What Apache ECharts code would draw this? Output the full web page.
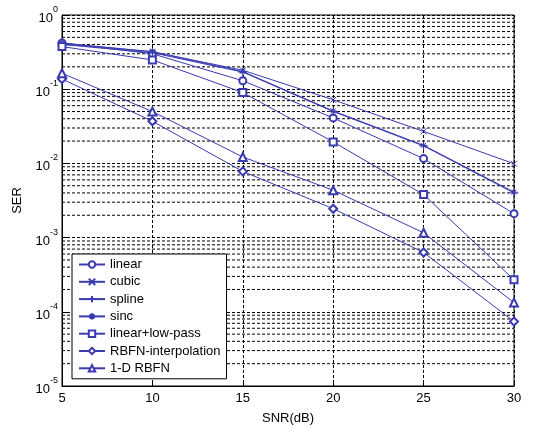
<!DOCTYPE html>
<html>
<head>
<meta charset="utf-8">
<script src="https://cdn.jsdelivr.net/npm/echarts@6/dist/echarts.min.js"></script>
<style>
  html, body { margin: 0; padding: 0; background: #fff; }
  #chart { width: 544px; height: 430px; }
</style>
</head>
<body>
<div id="chart"></div>
<script>
// SNR axis
var snr = [5, 10, 15, 20, 25, 30];

// SER values
var linear = [0.42, 0.30, 0.13, 0.041, 0.0116, 0.0021];
var cubic = [0.41, 0.32, 0.18, 0.072, 0.027, 0.0099];
var spline = [0.40, 0.31, 0.17, 0.050, 0.0172, 0.0040];
var sinc = [0.42, 0.32, 0.173, 0.051, 0.0175, 0.0041];
var linearLowPass = [0.375, 0.248, 0.090, 0.0195, 0.0038, 0.00027];
var rbfnInterp = [0.137, 0.037, 0.0078, 0.00245, 0.00063, 0.000074];
var rbfn1d = [0.164, 0.050, 0.0122, 0.00435, 0.00116, 0.000133];

var names = ['linear', 'cubic', 'spline', 'sinc', 'linear+low-pass', 'RBFN-interpolation', '1-D RBFN'];
var values = [linear, cubic, spline, sinc, linearLowPass, rbfnInterp, rbfn1d];
var symbols = [
    'emptyCircle',
    'path://M0,0L10,10M10,0L0,10',
    'path://M5,0L5,10M0,5L10,5',
    'path://M5,0L5,10M0,5L10,5M1.5,1.5L8.5,8.5M8.5,1.5L1.5,8.5',
    'emptyRect',
    'emptyDiamond',
    'emptyTriangle'
];
var sizes = [7, 6, 9, 7, 7, 8, 8];

var blue = '#3a3ab2';

var series = [];

// minor log grid lines (2..9 in each decade), drawn as plain dashed lines
for (var e = -5; e < 0; e++) {
    for (var m = 2; m <= 9; m++) {
        var v = m * Math.pow(10, e);
        series.push({
            type: 'line',
            data: [[5, v], [30, v]],
            silent: true,
            symbol: 'none',
            lineStyle: { color: '#000', type: [3, 2], width: 1 },
            z: 1
        });
    }
}

names.forEach(function (n, i) {
    series.push({
        name: n,
        type: 'line',
        data: snr.map(function (x, j) { return [x, values[i][j]]; }),
        symbol: symbols[i],
        symbolSize: sizes[i],
        showAllSymbol: true,
        lineStyle: { color: blue, width: 1 },
        itemStyle: { color: blue, borderColor: blue, borderWidth: 1 },
        z: 5
    });
});

var chart = echarts.init(document.getElementById('chart'));
chart.setOption({
    animation: false,
    backgroundColor: '#fff',
    grid: {
        left: 62, right: 30, top: 15, bottom: 43,
        show: true, borderColor: '#000', borderWidth: 1, backgroundColor: '#fff'
    },
    legend: {
        data: names,
        orient: 'vertical',
        left: 72,
        top: 254,
        backgroundColor: '#fff',
        borderColor: '#000',
        borderWidth: 1,
        borderRadius: 0,
        padding: [4, 6, 4, 6],
        itemWidth: 26,
        itemHeight: 8,
        itemGap: 4.3,
        z: 10,
        textStyle: { fontFamily: 'Liberation Sans', fontSize: 13, color: '#000' }
    },
    xAxis: {
        type: 'value',
        min: 5, max: 30, interval: 5,
        name: 'SNR(dB)',
        nameLocation: 'middle',
        nameGap: 26,
        nameTextStyle: { fontFamily: 'Liberation Sans', fontSize: 13, color: '#000' },
        axisLine: { lineStyle: { color: '#000' } },
        axisTick: { inside: true, length: 5, lineStyle: { color: '#000' } },
        axisLabel: { fontFamily: 'Liberation Sans', fontSize: 13, color: '#000', margin: 6 },
        splitLine: { show: true, lineStyle: { color: '#000', type: [3, 2] } }
    },
    yAxis: {
        type: 'log',
        logBase: 10,
        min: 1e-5, max: 1,
        name: 'SER',
        nameLocation: 'middle',
        nameRotate: 90,
        nameGap: 38,
        nameTextStyle: { fontFamily: 'Liberation Sans', fontSize: 13, color: '#000' },
        axisLine: { show: true, lineStyle: { color: '#000' } },
        axisTick: { inside: true, length: 5, lineStyle: { color: '#000' } },
        axisLabel: {
            margin: 4,
            formatter: function (v) {
                var p = Math.round(Math.log10(v));
                return '{b|10}{s|' + p + '}';
            },
            rich: {
                b: { fontFamily: 'Liberation Sans', fontSize: 13, color: '#000', lineHeight: 20, verticalAlign: 'bottom' },
                s: { fontFamily: 'Liberation Sans', fontSize: 9, color: '#000', lineHeight: 20, verticalAlign: 'top' }
            }
        },
        splitLine: { show: true, lineStyle: { color: '#000', type: [3, 2] } }
    },
    series: series
});
</script>
</body>
</html>
